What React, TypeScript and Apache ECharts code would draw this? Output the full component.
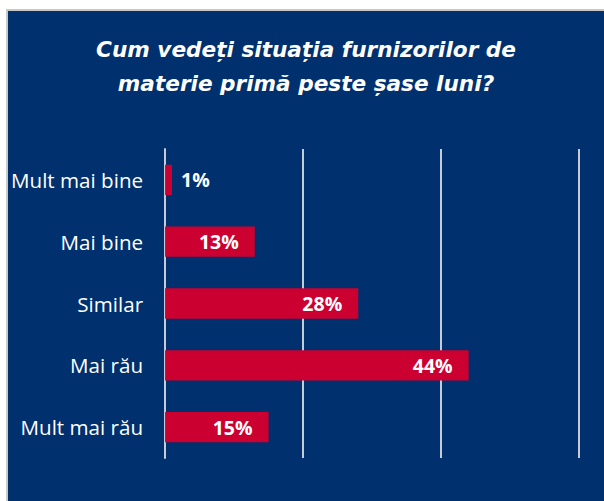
import React, { useEffect, useRef } from "react";
import * as echarts from "echarts";

const titleLines = ["Cum vedeți situația furnizorilor de", "materie primă peste șase luni?"];
const categories = ["Mult mai bine", "Mai bine", "Similar", "Mai rău", "Mult mai rău"];
const values = [1, 13, 28, 44, 15];
const axisMin = 0;
const axisMax = 60;
const axisInterval = 20;

const NAVY = "#00306e";
const RED = "#cc0030";
const GRID = "#c5ccd8";
const FONT = "'Open Sans', Lato, sans-serif";

export default function App() {
  const ref = useRef<HTMLDivElement>(null);
  useEffect(() => {
    if (!ref.current) return;
    const chart = echarts.init(ref.current, null, { renderer: "svg" });
    chart.setOption({
      animation: false,
      backgroundColor: NAVY,
      title: {
        text: titleLines.join("\n"),
        left: "center",
        top: 16,
        textStyle: {
          color: "#ffffff",
          fontFamily: "'DejaVu Sans', sans-serif",
          fontSize: 21.6,
          fontWeight: "bold",
          fontStyle: "italic",
          lineHeight: 34,
        },
      },
      grid: { left: 157, right: 25, top: 138, height: 309 },
      xAxis: {
        type: "value",
        min: axisMin,
        max: axisMax,
        interval: axisInterval,
        axisLabel: { show: false },
        axisLine: { show: false },
        axisTick: { show: false },
        splitLine: { show: true, lineStyle: { color: GRID, width: 2 } },
      },
      yAxis: {
        type: "category",
        data: categories,
        inverse: true,
        axisLine: { show: true, lineStyle: { color: GRID, width: 2 } },
        axisTick: { show: false },
        axisLabel: {
          color: "#ffffff",
          fontFamily: FONT,
          fontSize: 20.6,
          margin: 22,
        },
      },
      series: [
        {
          type: "bar",
          barWidth: "49%",
          itemStyle: { color: RED },
          data: values.map((v) => ({
            value: v,
            label: {
              show: true,
              position: v < 5 ? "right" : "insideRight",
              distance: v < 5 ? 9 : 16,
              formatter: "{c}%",
              color: "#ffffff",
              fontFamily: FONT,
              fontSize: 19.5,
              fontWeight: "bold",
            },
          })),
        },
      ],
    });
    return () => chart.dispose();
  }, []);
  return (
    <div
      style={{
        position: "absolute",
        left: 6,
        top: 9,
        width: 598,
        height: 492,
        borderTop: "2px solid #c8c8c8",
        borderLeft: "2px solid #c8c8c8",
        boxSizing: "border-box",
        background: "#fff",
      }}
    >
      <div ref={ref} style={{ width: 596, height: 490 }} />
    </div>
  );
}
